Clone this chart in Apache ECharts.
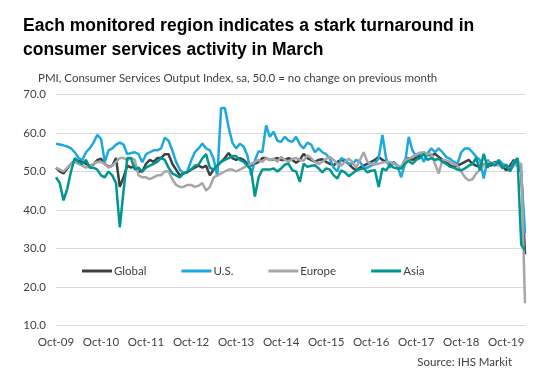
<!DOCTYPE html>
<html>
<head>
<meta charset="utf-8">
<script src="https://cdn.jsdelivr.net/npm/echarts@6/dist/echarts.min.js"></script>
<style>
html,body{margin:0;padding:0;background:#fff;}
#chart{width:552px;height:389px;}
</style>
</head>
<body>
<div id="chart"></div>
<script>
// Month categories Oct-09 .. Mar-20
const monthNames = ['Jan','Feb','Mar','Apr','May','Jun','Jul','Aug','Sep','Oct','Nov','Dec'];
const categories = [];
for (let k = 0; k < 126; k++) {
  const m = (9 + k) % 12;
  const y = 2009 + Math.floor((9 + k) / 12);
  categories.push(monthNames[m] + '-' + String(y % 100).padStart(2, '0'));
}

const seriesNames = ['Global', 'U.S.', 'Europe', 'Asia'];

const globalVals = [
  51,50,49.5,50.8,52,52.8,52.8,52.5,52,51.5,51.8,53,53.3,52,51.2,51.5,53.5,46,48.5,51.5,
  51,51.5,50,50,52,53,52.5,53.5,53.5,54.5,54.5,52,50.5,49,49.5,49.8,50.5,51,51.5,51,
  51.5,49,50.5,51.5,52.5,53.5,54.8,53.5,53,53.5,53,52,51.5,52,52.5,53.5,53.5,53,53.2,53.5,
  53,53,53.5,53,52.3,53,54.6,53.5,53,52.5,53,53.2,52.5,52,51.6,52.5,53,52.7,52,51,
  50.3,51,51.5,52,52.5,53,53.8,53,52.5,52,52.3,51.5,51,53,53.5,53,53.6,54.2,55,54.3,
  54.2,54.6,53.8,53,52.5,51.6,51.2,51.5,52,52.5,53,52,51.5,51.2,51.8,52,51.5,52.5,52,51.5,
  50.3,51.5,53,51.5,49.8,28.5
];

const usVals = [
  57.2,57,56.8,56.5,56,55,53.5,53,55,56,57.5,59.5,58.5,52.5,55.5,56,57,57.5,57,54.5,
  54.8,55,54.5,52.4,54.5,55,55.5,55.5,56,58.8,58,55.5,52.5,50.5,49.5,50,52.8,55,56,57.3,
  56,55.5,53.3,48.8,66.5,66.5,61.5,57.5,56,57.2,56.5,54.2,49,52.8,55.3,55,62,59,60.3,58,
  57.7,59,58,57.7,59,57,56,57.5,57,55,56,55,54.5,53.3,51,50,53.5,53,52,52,
  53,52.5,51,51,51.5,52,53.5,59.5,53.3,51,52.5,51.5,48.5,52,59,55.5,54,55,52.5,54.7,
  56,55,56,55,53.8,53.3,52.5,52,55,56,56,55,53.8,53,48.2,53,52,52,53,52,
  51.5,50.3,52.5,53.3,49.5,34
];

const europeVals = [
  51,50.5,50,51,52,52.5,52,51.5,51,51.5,52,52.5,52.5,52,51,51.5,52.5,53.5,53.5,53,
  53.5,53,49,48.5,48.5,48,48.5,49,49,50,50,48,46.5,46,46,46.5,46.5,46,46.3,47,
  45,46,48.4,49,49.5,50,50.5,50.5,50,50.5,51,51.5,52,52.5,53,52.5,53.5,53,53.3,52.5,
  53.8,53,52.5,53.3,53.5,53,52.8,54.2,53.5,52.5,52,52.5,53.3,53.8,53,52,51.5,52.5,53.3,52.5,
  51,53,55,52.5,52,51.8,52,52.3,52.5,52.5,52,51.5,51.2,52.8,53.3,53.8,54.5,54.8,55,54.5,
  54.6,52,49.5,53,52.9,52.5,52,51.5,50,48.5,47.7,48,49.5,50.5,51.5,52.5,52.3,52,51.5,51.2,
  51.5,50.5,51.5,52,52,15.8
];

const asiaVals = [
  48.5,47,42.5,45.5,50,53.5,52.5,52,53,51,51,50.5,49,48.5,50,49,47,35.5,45,53.5,
  53.5,50.5,51,50,51,51.5,52,52.5,53.5,53,51,49.5,49,48.5,49.5,50,50.5,51.5,51.8,53.4,
  54.5,51,50.5,51.5,52.5,53,53.5,54,54,53,52.5,51.5,50.5,43.5,48.5,50.5,50.5,50.5,50.8,50,
  50.8,51.8,52,50.3,50,47.3,52,51.2,51.5,51.6,50.8,49.8,50.8,50.5,49,48.2,50.3,49.8,48.8,49.5,
  50.2,50.6,50.8,49.8,50.2,50.3,46,50.8,50.3,51.8,51,50.8,50.8,52,52.8,52,53,53.5,54.6,53,
  53.5,53,53.3,52.5,52,51.2,51,50.5,50.3,50.8,51.5,52,53.5,50.3,54.6,51,52.3,51.5,52.8,50.8,
  51.8,50,52,53.5,31,29.5
];

const yTicks = [10, 20, 30, 40, 50, 60, 70];
const colors = ['#404040', '#1BA8E0', '#A6A6A6', '#00968F'];
const seriesData = [globalVals, usVals, europeVals, asiaVals];

const labelFont = 'Lato, "Open Sans", sans-serif';

const chart = echarts.init(document.getElementById('chart'), null, {renderer: 'canvas'});
chart.setOption({
  animation: false,
  backgroundColor: '#ffffff',
  title: [
    {
      text: 'Each monitored region indicates a stark turnaround in\nconsumer services activity in March',
      left: 18, top: 9,
      textStyle: {fontFamily: '"Liberation Sans", Arial, sans-serif', fontWeight: 'bold', fontSize: 17.5, lineHeight: 24, color: '#000'}
    },
    {
      text: 'PMI, Consumer Services Output Index, sa, 50.0 = no change on previous month',
      left: 33, top: 67,
      textStyle: {fontFamily: labelFont, fontWeight: 'normal', fontSize: 11.5, color: '#404040'}
    },
    {
      text: 'Source: IHS Markit',
      right: 35, top: 351,
      textStyle: {fontFamily: labelFont, fontWeight: 'normal', fontSize: 11.5, color: '#404040'}
    }
  ],
  legend: {
    data: seriesNames,
    left: 77, top: 260,
    icon: 'rect',
    itemWidth: 30, itemHeight: 3,
    itemGap: 35,
    textStyle: {fontFamily: labelFont, fontSize: 11.5, color: '#404040', padding: [0, 0, 0, -3]}
  },
  grid: {left: 56, right: 27, top: 94.5, bottom: 63.5, containLabel: false},
  xAxis: {
    type: 'category',
    data: categories,
    boundaryGap: false,
    axisLine: {show: false},
    axisTick: {show: false},
    axisLabel: {interval: 11, margin: 11, fontFamily: labelFont, fontSize: 11.5, color: '#404040'}
  },
  yAxis: {
    type: 'value',
    min: yTicks[0], max: yTicks[yTicks.length - 1], interval: 10,
    axisLine: {show: false},
    axisTick: {show: false},
    splitLine: {lineStyle: {color: '#D9D9D9', width: 1}},
    axisLabel: {margin: 10, fontFamily: labelFont, fontSize: 11.5, color: '#404040', formatter: v => v.toFixed(1)}
  },
  series: seriesNames.map((n, k) => ({
    name: n,
    type: 'line',
    data: seriesData[k],
    showSymbol: false,
    symbol: 'none',
    lineStyle: {width: 2.5, color: colors[k]},
    itemStyle: {color: colors[k]},
    z: 2 + k
  }))
});
</script>
</body>
</html>
